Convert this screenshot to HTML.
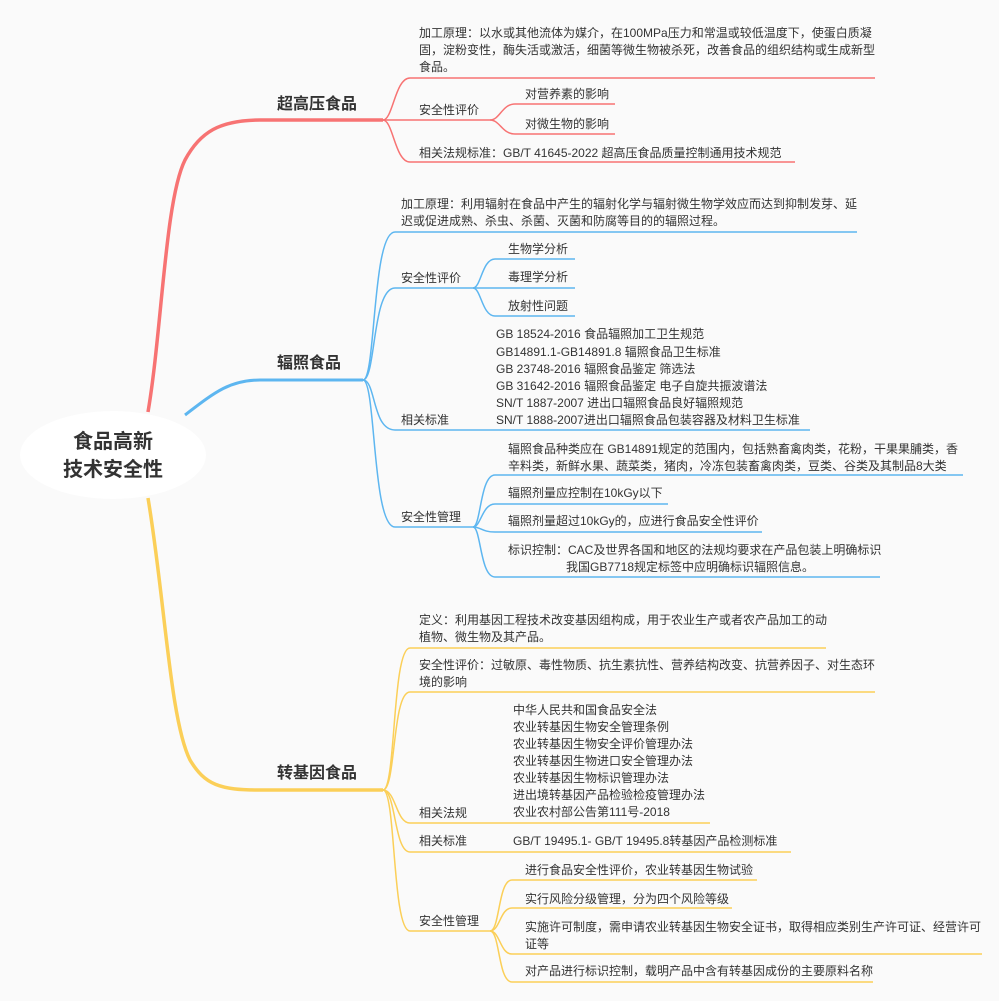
<!DOCTYPE html>
<html><head><meta charset="utf-8"><style>
html,body{margin:0;padding:0;background:#fafafa;}
svg{display:block;}
text{font-family:"Liberation Sans","Noto Sans CJK SC",sans-serif;font-size:12px;fill:#333;}
.b{font-size:16px;font-weight:bold;fill:#333;}
.r{font-size:20px;font-weight:bold;fill:#333;}
.R{stroke:#f77373;fill:none;stroke-width:1.5;}
.B{stroke:#5db6f0;fill:none;stroke-width:1.5;}
.Y{stroke:#fbcf58;fill:none;stroke-width:1.5;}
</style></head><body>
<svg width="999" height="1001" viewBox="0 0 999 1001" xmlns="http://www.w3.org/2000/svg">
<rect width="999" height="1001" fill="#fafafa"/>
<!-- main branches -->
<path d="M148,412 C162,330 165,200 185,160 C200,132 220,120 260,120 L383,120" class="R" style="stroke-width:3.5"/>
<path d="M185,415 C215,392 230,380 260,380 L363,380" class="B" style="stroke-width:3"/>
<path d="M148,498 C165,600 170,720 190,760 C205,785 220,790 260,790 L383,790" class="Y" style="stroke-width:3.5"/>
<!-- root -->
<ellipse cx="113" cy="455" rx="93" ry="44" fill="#fff"/>
<text x="113" y="448" class="r" text-anchor="middle">食品高新</text>
<text x="113" y="476" class="r" text-anchor="middle">技术安全性</text>
<text x="277" y="109" class="b">超高压食品</text>
<text x="277" y="368" class="b">辐照食品</text>
<text x="277" y="778" class="b">转基因食品</text>

<!-- RED -->
<path d="M383,120 C393,120 395,78 410,78 L875,78" class="R"/>
<path d="M383,120 L490,120" class="R"/>
<path d="M383,120 C393,120 395,162 410,162 L795,162" class="R"/>
<path d="M490,120 C500,120 502,104 515,104 L615,104" class="R"/>
<path d="M490,120 C500,120 502,134 515,134 L615,134" class="R"/>
<text x="419" y="37">加工原理：以水或其他流体为媒介，在100MPa压力和常温或较低温度下，使蛋白质凝</text>
<text x="419" y="54">固，淀粉变性，酶失活或激活，细菌等微生物被杀死，改善食品的组织结构或生成新型</text>
<text x="419" y="71">食品。</text>
<text x="419" y="114">安全性评价</text>
<text x="525" y="98">对营养素的影响</text>
<text x="525" y="128">对微生物的影响</text>
<text x="419" y="157">相关法规标准：GB/T 41645-2022 超高压食品质量控制通用技术规范</text>

<!-- BLUE -->
<path d="M363,380 C376,380 372,232 395,232 L857,232" class="B"/>
<path d="M363,380 C376,380 372,288 395,288 L473,288" class="B"/>
<path d="M363,380 C376,380 372,430 395,430 L810,430" class="B"/>
<path d="M363,380 C376,380 372,527 395,527 L473,527" class="B"/>
<path d="M473,288 C481,288 482,259 495,259 L575,259" class="B"/>
<path d="M473,288 L575,288" class="B"/>
<path d="M473,288 C481,288 482,316 495,316 L575,316" class="B"/>
<path d="M473,527 C481,527 480,475 495,475 L963,475" class="B"/>
<path d="M473,527 C481,527 482,504 495,504 L668,504" class="B"/>
<path d="M473,527 C481,527 482,532 495,532 L762,532" class="B"/>
<path d="M473,527 C481,527 480,577 495,577 L880,577" class="B"/>
<text x="401" y="208">加工原理：利用辐射在食品中产生的辐射化学与辐射微生物学效应而达到抑制发芽、延</text>
<text x="401" y="225">迟或促进成熟、杀虫、杀菌、灭菌和防腐等目的的辐照过程。</text>
<text x="401" y="282">安全性评价</text>
<text x="508" y="253">生物学分析</text>
<text x="508" y="281">毒理学分析</text>
<text x="508" y="310">放射性问题</text>
<text x="496" y="338">GB 18524-2016 食品辐照加工卫生规范</text>
<text x="496" y="356">GB14891.1-GB14891.8 辐照食品卫生标准</text>
<text x="496" y="373">GB 23748-2016 辐照食品鉴定 筛选法</text>
<text x="496" y="390">GB 31642-2016  辐照食品鉴定 电子自旋共振波谱法</text>
<text x="496" y="407">SN/T 1887-2007 进出口辐照食品良好辐照规范</text>
<text x="496" y="424">SN/T 1888-2007进出口辐照食品包装容器及材料卫生标准</text>
<text x="401" y="424">相关标准</text>
<text x="401" y="521">安全性管理</text>
<text x="508" y="453">辐照食品种类应在 GB14891规定的范围内，包括熟畜禽肉类，花粉，干果果脯类，香</text>
<text x="508" y="470">辛料类，新鲜水果、蔬菜类，猪肉，冷冻包装畜禽肉类，豆类、谷类及其制品8大类</text>
<text x="508" y="497">辐照剂量应控制在10kGy以下</text>
<text x="508" y="525">辐照剂量超过10kGy的，应进行食品安全性评价</text>
<text x="508" y="554">标识控制：CAC及世界各国和地区的法规均要求在产品包装上明确标识</text>
<text x="566" y="571">我国GB7718规定标签中应明确标识辐照信息。</text>

<!-- YELLOW -->
<path d="M383,790 C396,790 392,648 410,648 L826,648" class="Y"/>
<path d="M383,790 C396,790 392,692 410,692 L875,692" class="Y"/>
<path d="M383,790 C396,790 396,823 410,823 L710,823" class="Y"/>
<path d="M383,790 C396,790 394,852 410,852 L791,852" class="Y"/>
<path d="M383,790 C396,790 392,931 410,931 L490,931" class="Y"/>
<path d="M490,931 C500,931 498,880 512,880 L757,880" class="Y"/>
<path d="M490,931 C500,931 500,908 512,908 L732,908" class="Y"/>
<path d="M490,931 C500,931 500,954 512,954 L982,954" class="Y"/>
<path d="M490,931 C500,931 498,982 512,982 L873,982" class="Y"/>
<text x="419" y="624">定义：利用基因工程技术改变基因组构成，用于农业生产或者农产品加工的动</text>
<text x="419" y="641">植物、微生物及其产品。</text>
<text x="419" y="669">安全性评价：过敏原、毒性物质、抗生素抗性、营养结构改变、抗营养因子、对生态环</text>
<text x="419" y="686">境的影响</text>
<text x="513" y="714">中华人民共和国食品安全法</text>
<text x="513" y="731">农业转基因生物安全管理条例</text>
<text x="513" y="748">农业转基因生物安全评价管理办法</text>
<text x="513" y="765">农业转基因生物进口安全管理办法</text>
<text x="513" y="782">农业转基因生物标识管理办法</text>
<text x="513" y="799">进出境转基因产品检验检疫管理办法</text>
<text x="513" y="816">农业农村部公告第111号-2018</text>
<text x="419" y="817">相关法规</text>
<text x="419" y="845">相关标准</text>
<text x="513" y="845">GB/T 19495.1- GB/T 19495.8转基因产品检测标准</text>
<text x="419" y="925">安全性管理</text>
<text x="525" y="874">进行食品安全性评价，农业转基因生物试验</text>
<text x="525" y="903">实行风险分级管理，分为四个风险等级</text>
<text x="525" y="931">实施许可制度，需申请农业转基因生物安全证书，取得相应类别生产许可证、经营许可</text>
<text x="525" y="948">证等</text>
<text x="525" y="975">对产品进行标识控制，载明产品中含有转基因成份的主要原料名称</text>
</svg>
</body></html>
